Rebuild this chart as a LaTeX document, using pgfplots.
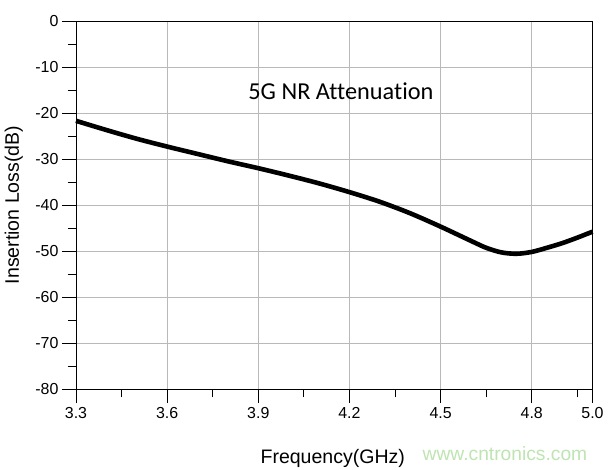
\documentclass[border=0pt]{standalone}
\usepackage{pgfplots}
\pgfplotsset{compat=1.18}
\usepackage{fontspec}
\setmainfont{Liberation Sans}
\newfontfamily\calib[Ligatures=NoCommon]{Carlito}
\definecolor{gridgray}{RGB}{185,185,185}
\definecolor{wmgreen}{RGB}{190,228,178}
\begin{document}
\begin{tikzpicture}[x=1bp,y=1bp]
\begin{axis}[
  scale only axis,
  width=516.5bp, height=368bp,
  xmin=3.3, xmax=5.0, ymin=-80, ymax=0,
  xtick={3.3,3.6,3.9,4.2,4.5,4.8,5.0},
  xticklabels={3.3,3.6,3.9,4.2,4.5,4.8,5.0},
  minor xtick={3.45,3.75,4.05,4.35,4.65,4.95},
  ytick={-80,-70,...,0},
  minor ytick={-75,-65,...,-5},
  xtick pos=bottom, ytick pos=left,
  tick align=outside,
  major tick length=14bp,
  minor tick length=8bp,
  tick style={black, line width=1pt},
  grid=major,
  major grid style={gridgray, line width=1pt},
  axis line style={black, line width=1pt},
  ticklabel style={font=\fontsize{16}{17}\selectfont},
  /pgf/number format/assume math mode=true,
  xticklabel style={yshift=-1bp},
  yticklabel style={xshift=0bp},
  clip=false,
]
\addplot[black, line width=4.6bp, smooth, tension=0.5] coordinates {
(3.3,-21.7) (3.4,-23.7) (3.5,-25.6) (3.6,-27.3) (3.7,-28.9) (3.8,-30.5)
(3.9,-32.0) (4.0,-33.6) (4.1,-35.3) (4.2,-37.2) (4.3,-39.3) (4.4,-41.8)
(4.5,-44.7) (4.6,-47.8) (4.65,-49.3) (4.7,-50.3) (4.75,-50.6) (4.8,-50.2)
(4.85,-49.3) (4.9,-48.3) (4.95,-47.1) (5.0,-45.8)
};
\node[font=\calib\fontsize{24.4}{26}\selectfont, anchor=center] at (axis cs:4.172,-15.2) {5G NR Attenuation};
\node[font=\fontsize{19.3}{20}\selectfont, text=wmgreen] at (axis cs:4.712,-94.1) {www.cntronics.com};
\node[font=\fontsize{19.6}{20}\selectfont] at (axis cs:4.145,-95.0) {Frequency(GHz)};
\node[font=\fontsize{19.6}{20}\selectfont, rotate=90] at (axis cs:3.095,-40.0) {Insertion Loss(dB)};
\end{axis}
\pgfresetboundingbox
\path (current axis.south west) ++(-76bp,-81bp) rectangle ++(608bp,470bp);
\end{tikzpicture}
\end{document}
